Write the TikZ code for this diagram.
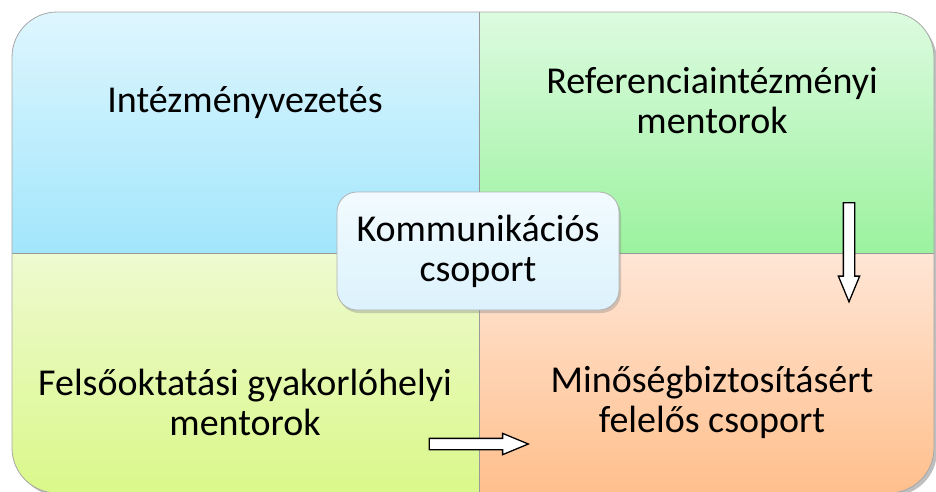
\documentclass[tikz,border=0pt]{standalone}
\usepackage{fontspec}
\setmainfont{Carlito}
\usetikzlibrary{shapes.arrows,shadows}
\definecolor{blueTop}{HTML}{DEF6FE}
\definecolor{blueBot}{HTML}{A2E6FC}
\definecolor{greenTop}{HTML}{DDFBE0}
\definecolor{greenBot}{HTML}{9BF29E}
\definecolor{limeTop}{HTML}{EEFAD0}
\definecolor{limeBot}{HTML}{DAF88A}
\definecolor{peachTop}{HTML}{FFE6D6}
\definecolor{peachBot}{HTML}{FFBF8C}
\definecolor{boxTop}{HTML}{F2FBFF}
\definecolor{boxBot}{HTML}{DCF2FC}
\tikzset{
  quadtext/.style={align=center,text=black,font=\fontsize{38}{40}\selectfont},
  blockarrow/.style={single arrow,draw=black,fill=white,line width=1.3pt,
    minimum width=20pt,inner sep=5pt,single arrow head extend=5pt,
    single arrow tip angle=45,minimum height=99pt}
}
\begin{document}
\begin{tikzpicture}[x=1pt,y=-1pt]
  \useasboundingbox (0,0) rectangle (936,491);
  % outer frame with shadow
  \fill[black,opacity=0.25,rounded corners=45pt] (15,16) rectangle (937,496);
  \begin{scope}
    \clip[rounded corners=45pt] (12,12) rectangle (934,493);
    \shade[top color=blueTop,bottom color=blueBot] (12,12) rectangle (479,253);
    \shade[top color=greenTop,bottom color=greenBot] (479,12) rectangle (934,253);
    \shade[top color=limeTop,bottom color=limeBot] (12,253) rectangle (479,493);
    \shade[top color=peachTop,bottom color=peachBot] (479,253) rectangle (934,493);
    \draw[gray!80] (479,12) -- (479,493);
    \draw[gray!80] (12,253) -- (934,253);
  \end{scope}
  \draw[gray!70,line width=0.8pt,rounded corners=45pt] (12,12) rectangle (934,493);
  % quadrant texts
  \node[quadtext] (lead) at (245,103) {Intézményvezetés};
  \node[quadtext] (refm) at (712,101) {Referenciaintézményi\\mentorok};
  \node[quadtext] (univ) at (245,402) {Felsőoktatási gyakorlóhelyi\\mentorok};
  \node[quadtext] (qual) at (712,402) {Minőségbiztosításért\\felelős csoport};
  % centre box
  \shade[top color=boxTop,bottom color=boxBot,rounded corners=20pt,
    drop shadow={shadow xshift=2pt,shadow yshift=-3pt,opacity=0.35}]
    (337,192) rectangle (619,310);
  \draw[gray!60,line width=0.8pt,rounded corners=20pt] (337,192) rectangle (619,310);
  \node[quadtext] (comm) at (478,251) {Kommunikációs\\csoport};
  % arrows
  \node[blockarrow,rotate=-90] (downarr) at (849,245.5) {};
  \node[blockarrow] (rightarr) at (472,444) {};
\end{tikzpicture}
\end{document}
